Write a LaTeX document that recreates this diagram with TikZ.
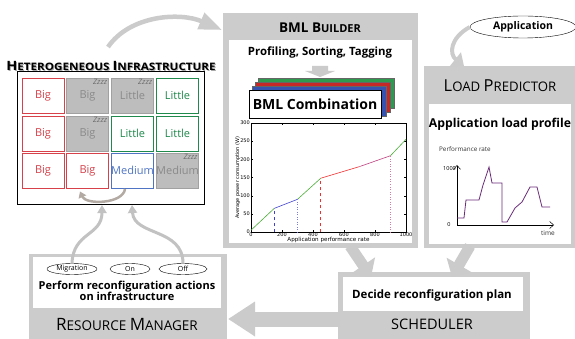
\documentclass[tikz,border=0pt]{standalone}
\usepackage{fontspec}
\usepackage{graphicx}
\setmainfont{Open Sans}
\newfontfamily\plotfont{DejaVu Sans}
\usetikzlibrary{arrows.meta,shapes.geometric}
\definecolor{boxgray}{HTML}{CCCCCC}
\definecolor{arrgray}{HTML}{CBCBCB}
\definecolor{thingray}{HTML}{C2C2C2}
\definecolor{bigred}{HTML}{D6414A}
\definecolor{litgreen}{HTML}{1F8A4C}
\definecolor{medblue}{HTML}{4F74C4}
\definecolor{sleepgray}{HTML}{BDBDBD}
\definecolor{sleeptext}{HTML}{8A8A8A}
\definecolor{swapcol}{HTML}{B3ABA3}
\definecolor{lpurple}{HTML}{6B2C7A}
\definecolor{pgreen}{HTML}{4CAF3A}
\definecolor{pblue}{HTML}{4040D0}
\definecolor{pred}{HTML}{EE3030}
\definecolor{pmag}{HTML}{C04080}
\definecolor{stgreen}{HTML}{2E9A50}
\definecolor{stred}{HTML}{C62828}
\definecolor{stblue}{HTML}{3552B0}
\newcommand\fs[1]{\fontsize{#1}{#1}\selectfont}
\newcommand\infratitle{\scalebox{1.13}[1]{\bfseries\fs{12.8}H\fs{10.3}ETEROGENEOUS \fs{12.8}I\fs{10.3}NFRASTRUCTURE}}
\begin{document}
\begin{tikzpicture}[x=1pt,y=-1pt,
  cell/.style={minimum width=42pt,minimum height=35pt,draw,line width=0.8pt,fill=white,inner sep=0pt,font=\fs{11}},
  bigc/.style={cell,draw=bigred,text=bigred},
  litc/.style={cell,draw=litgreen,text=litgreen},
  medc/.style={cell,draw=medblue,text=medblue},
  sleepc/.style={cell,draw=sleepgray!85!black,fill=sleepgray,text=sleeptext,
     label={[anchor=north east,inner sep=1.5pt,font=\fs{7.5}\itshape,text=sleeptext!75!black]north east:Zzzz}},
  bubble/.style={draw,ellipse,inner sep=0pt,minimum height=11pt,font=\fs{7}},
  thinarrow/.style={draw=thingray,line width=3pt,-{Triangle[width=9pt,length=8pt]}},
  bigarrow/.style={draw=arrgray,line width=11pt,-{Triangle[width=28pt,length=14pt]}},
  hdr/.style={inner sep=0pt}
]
\useasboundingbox (0,0) rectangle (575,339);

% ---------- Heterogeneous infrastructure ----------
\node[hdr,text=gray!70] at (112,67) {\infratitle};
\node[hdr] (infratitle) at (111,66) {\infratitle};
\draw[line width=1pt] (17,72) rectangle (204,204);
\node[bigc]   (c11) at (43,95.5)   {Big};
\node[sleepc] (c12) at (87.5,95.5) {Big};
\node[sleepc] (c13) at (132.5,95.5){Little};
\node[litc]   (c14) at (177.5,95.5){Little};
\node[bigc]   (c21) at (43,133.5)   {Big};
\node[sleepc] (c22) at (87.5,133.5) {Big};
\node[litc]   (c23) at (132.5,133.5){Little};
\node[litc]   (c24) at (177.5,133.5){Little};
\node[bigc]   (c31) at (43,170.5)   {Big};
\node[bigc]   (c32) at (87.5,170.5) {Big};
\node[medc]   (c33) at (132.5,170.5){Medium};
\node[sleepc] (c34) at (177.5,170.5){Medium};
\coordinate (swapA) at (125,189);
\coordinate (swapB) at (80,191.5);
\draw[swapcol,line width=2.5pt,-{Triangle[width=8pt,length=6pt]}] (swapA) .. controls (123,204) and (86,205) .. (swapB);
\coordinate (infraMig) at (102,205);
\coordinate (infraOff) at (132,205);

% ---------- BML builder ----------
\fill[boxgray] (223,13) rectangle (418,248);
\fill[white] (229,40) rectangle (412,243);
\coordinate (bmlin) at (222,30);
\node[hdr] at (320,28) {\bfseries\fs{13.5}BML \fs{13.5}B\fs{11}UILDER};
\node[hdr,font=\bfseries\fs{11.4}] (pst) at (320,53) {Profiling, Sorting, Tagging};
\fill[arrgray] (312,66) -- (328,66) -- (328,71) -- (335,71) -- (320,77) -- (305,71) -- (312,71) -- cycle;
\filldraw[draw=black!60,fill=stgreen] (258,78) rectangle (394,108);
\filldraw[draw=black!60,fill=stred] (255,82) rectangle (390,112);
\filldraw[draw=black!60,fill=stblue] (252,86) rectangle (386,116);
\filldraw[draw=black,line width=0.8pt,fill=white] (249,90) rectangle (381,118);
\node[hdr,font=\bfseries\fs{14}] (bmlc) at (315,104) {BML Combination};
% plot
\draw[line width=0.5pt] (251,123) rectangle (406,232);
\begin{scope}[shift={(251,232)},x=0.155pt,y=0.36333pt,font=\plotfont\fs{5}]
  \foreach \v in {0,200,400,600,800,1000}{
    \draw[line width=0.3pt] (\v,0) -- (\v,6);
    \draw[line width=0.3pt] (\v,300) -- (\v,294);
    \node[anchor=north,inner sep=1pt] at (\v,0) {\v};}
  \foreach \w in {0,50,100,150,200,250,300}{
    \draw[line width=0.3pt] (0,\w) -- (12,\w);
    \draw[line width=0.3pt] (1000,\w) -- (988,\w);
    \node[anchor=east,inner sep=1pt] at (0,\w) {\w};}
  \draw[pgreen,line width=0.6pt] (0,5) -- (150,65);
  \draw[pblue,line width=0.6pt] (150,65) -- (300,90);
  \draw[pgreen,line width=0.6pt] (300,90) -- (450,148);
  \draw[pred,line width=0.6pt] (450,148) -- (700,180);
  \draw[pmag,line width=0.6pt] (700,180) -- (900,210);
  \draw[pgreen,line width=0.6pt] (900,210) -- (1000,255);
  \draw[pblue,line width=0.7pt,dashed] (150,0) -- (150,65);
  \draw[pblue!70,line width=0.5pt,dotted] (300,0) -- (300,90);
  \draw[pred,line width=0.7pt,dashed] (450,0) -- (450,148);
  \draw[pmag!70,line width=0.5pt,dotted] (900,0) -- (900,210);
  \node[anchor=north,inner sep=0pt,font=\plotfont\fs{5.6}] at (500,-14) {Application performance rate};
  \node[rotate=90,inner sep=0pt,font=\plotfont\fs{5}] at (-85,150) {Average power consumption (W)};
\end{scope}

% ---------- Application + Load predictor ----------
\node[draw,ellipse,minimum width=106pt,minimum height=22pt,inner sep=0pt,font=\bfseries\fs{10.5}] (app) at (523,27) {Application};
\fill[boxgray] (424,66) rectangle (576,248);
\fill[white] (429,104) rectangle (571,244);
\coordinate (lpin) at (464,66);
\draw[arrgray,line width=4pt,-{Triangle[width=17pt,length=11pt]}] (app.west) .. controls (450,38) and (449,54) .. (lpin);
\node[hdr] at (500,86) {\fs{16.5}L\fs{13.2}OAD \fs{16.5}P\fs{13.2}REDICTOR};
\node[hdr,font=\bfseries\fs{12.2}] at (500,124) {Application load profile};
\node[anchor=west,inner sep=0pt,font=\fs{6.3},text=black!80] at (439,149) {Performance rate};
\draw[line width=0.5pt,-{Straight Barb[length=4pt,width=7pt]}] (457,225) -- (457,165);
\draw[line width=0.5pt,-{Straight Barb[length=4pt,width=7pt]}] (457,225) -- (554,225);
\node[anchor=east,inner sep=1pt,font=\fs{5.5}] at (457,169) {1000};
\node[inner sep=0pt,font=\fs{5.5}] at (449,225) {0};
\node[inner sep=0pt,font=\fs{6.5},text=black!80] at (548,233) {time};
\draw[lpurple,line width=0.8pt] (457,218) -- (464,218) -- (466,200) -- (479,200) -- (483,185) -- (489,167) -- (492,183) -- (502,183) -- (502,222) -- (507,222) -- (515,208) -- (522,202) -- (530,187) -- (537,187) -- (542,207) -- (550,207);

% ---------- Resource manager ----------
\fill[boxgray] (29,254) rectangle (227,339);
\fill[white] (33,257) rectangle (221,308);
\node[bubble,minimum width=50pt] (mig) at (72,269) {Migration};
\node[bubble,minimum width=40pt] (on) at (130,269) {On};
\node[bubble,minimum width=48pt] (off) at (183,269) {Off};
\node[hdr,align=center,font=\bfseries\fs{11}] (perf) at (127,291) {Perform reconfiguration actions\\[-1.5pt]on infrastructure};
\node[hdr] (rmtitle) at (127,324) {\fs{17}R\fs{13.5}ESOURCE \fs{17}M\fs{13.5}ANAGER};
\coordinate (rmin) at (228,319);

% ---------- Scheduler ----------
\fill[boxgray] (338,272) rectangle (530,339);
\fill[white] (343,277) rectangle (523,311);
\node[hdr,font=\bfseries\fs{11.5}] at (432,295) {Decide reconfiguration plan};
\node[hdr,font=\fs{14.5}] at (432,324) {SCHEDULER};
\coordinate (schedout) at (340,319);
\coordinate (schedA) at (371,277);
\coordinate (schedB) at (452,277);
\coordinate (bmlout) at (350,246);
\coordinate (lpout) at (470,246);

% ---------- connectors ----------
\coordinate (infraout) at (108,47);
\draw[arrgray,line width=4.5pt,-{Triangle[width=17pt,length=23pt]}] (infraout) .. controls (130,15) and (180,12) .. (bmlin);
\draw[bigarrow] (bmlout) -- (schedA);
\draw[bigarrow] (lpout) -- (schedB);
\draw[arrgray,line width=15pt,-{Triangle[width=33pt,length=27pt]}] (schedout) -- (rmin);
\draw[thinarrow] (mig.north) .. controls (73,232) and (102,236) .. (infraMig);
\draw[thinarrow] (off.north) .. controls (183,228) and (134,236) .. (infraOff);
\end{tikzpicture}
\end{document}
